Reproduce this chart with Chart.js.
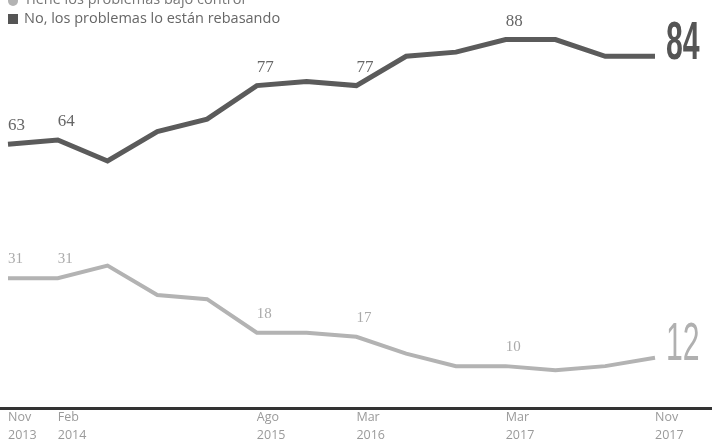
<!DOCTYPE html>
<html>
<head>
<meta charset="utf-8">
<script src="https://cdn.jsdelivr.net/npm/chart.js@4"></script>
<style>
  html, body { margin: 0; padding: 0; background: #fff; }
  #wrap { position: relative; width: 722px; height: 445px; }
</style>
</head>
<body>
<div id="wrap"><canvas id="chart"></canvas></div>
<script>
// ejes y datos
const tickLabels = [
  ['Nov', '2013'], ['Feb', '2014'], '', '', '', ['Ago', '2015'], '',
  ['Mar', '2016'], '', '', ['Mar', '2017'], '', '', ['Nov', '2017']
];
const rebasando = [63, 64, 59, 66, 69, 77, 78, 77, 84, 85, 88, 88, 84, 84];
const bajoControl = [31, 31, 34, 27, 26, 18, 18, 17, 13, 10, 10, 9, 10, 12];
const labeledIdx = [0, 1, 5, 7, 10];
const legendNames = ['Tiene los problemas bajo control', 'No, los problemas lo están rebasando'];

const DARK = '#5b5b5b';
const LIGHT = '#b3b3b3';

// etiquetas de valores, cifra final grande, leyenda y línea base
const annotate = {
  id: 'annotate',
  afterDatasetsDraw(chart) {
    const { ctx, chartArea } = chart;
    ctx.save();
    // línea base a todo lo ancho
    ctx.fillStyle = '#333';
    ctx.fillRect(0, chartArea.bottom - 1, 712, 3);

    chart.data.datasets.forEach((ds, di) => {
      const meta = chart.getDatasetMeta(di);
      const dark = di === 0;
      ctx.fillStyle = dark ? '#666' : '#aaa';
      ctx.font = dark ? '17px "Liberation Serif"' : '15px "Liberation Serif"';
      ctx.textAlign = 'left';
      ctx.textBaseline = 'alphabetic';
      labeledIdx.forEach(i => {
        const p = meta.data[i];
        ctx.fillText(String(ds.data[i]), p.x, p.y - (dark ? 14 : 15));
      });
      // cifra final
      const last = meta.data[meta.data.length - 1];
      ctx.save();
      ctx.translate(last.x + 11, last.y + (dark ? 3 : 2));
      ctx.scale(0.56, 1);
      ctx.font = dark ? 'bold 54px "Liberation Sans"' : '54px "Liberation Sans"';
      ctx.fillStyle = dark ? '#555' : '#b0b0b0';
      ctx.fillText(String(ds.data[ds.data.length - 1]), 0, 0);
      ctx.restore();
    });
    // leyenda
    ctx.font = '14.5px "Open Sans"';
    ctx.textBaseline = 'middle';
    ctx.fillStyle = LIGHT;
    ctx.beginPath();
    ctx.arc(13, 1, 5, 0, Math.PI * 2);
    ctx.fill();
    ctx.fillStyle = '#777';
    ctx.fillText(legendNames[0], 24, 0);
    ctx.fillStyle = '#555';
    ctx.fillRect(8, 14, 10, 10);
    ctx.fillStyle = '#666';
    ctx.fillText(legendNames[1], 24, 19);
    ctx.restore();
  }
};

new Chart(document.getElementById('chart'), {
  type: 'line',
  data: {
    labels: tickLabels,
    datasets: [
      {
        label: legendNames[1],
        data: rebasando,
        borderColor: DARK,
        borderWidth: 5,
        pointRadius: 0,
        tension: 0
      },
      {
        label: legendNames[0],
        data: bajoControl,
        borderColor: LIGHT,
        borderWidth: 4,
        pointRadius: 0,
        tension: 0
      }
    ]
  },
  options: {
    responsive: true,
    maintainAspectRatio: false,
    animation: false,
    layout: { padding: { left: 8, right: 67, top: 27, bottom: 0 } },
    plugins: { legend: { display: false }, tooltip: { enabled: false } },
    scales: {
      x: {
        offset: false,
        grid: { display: false, drawTicks: false },
        border: { display: false },
        ticks: {
          autoSkip: false,
          maxRotation: 0,
          align: 'start',
          padding: 1,
          color: '#9a9a9a',
          font: { family: 'Open Sans', size: 12.5, lineHeight: 1.4 }
        }
      },
      y: {
        display: false,
        min: 0,
        max: 91
      }
    }
  },
  plugins: [annotate]
});
</script>
</body>
</html>
